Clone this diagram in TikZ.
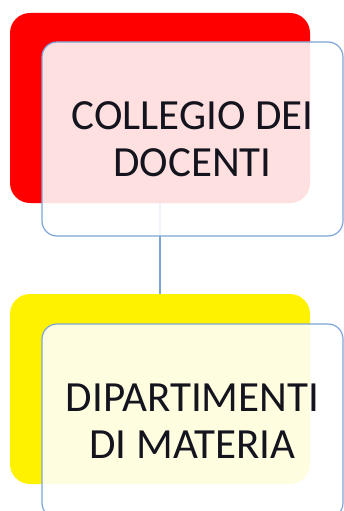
\documentclass[tikz,border=0pt]{standalone}
\usepackage{fontspec}
\setmainfont{Carlito}
\usetikzlibrary{positioning}
\definecolor{frameblue}{RGB}{125,165,215}
\definecolor{textdark}{RGB}{20,20,30}
\tikzset{
	backbox/.style={rounded corners=20pt, minimum width=300pt, minimum height=190pt, inner sep=0pt},
	frontbox/.style={draw=frameblue, line width=1.2pt, fill=white, fill opacity=0.88, text opacity=1,
		rounded corners=15pt, minimum width=301pt, minimum height=194pt, inner sep=0pt,
		align=center, text=textdark, font=\fontsize{43}{47}\selectfont},
	linkline/.style={draw=frameblue, line width=1.2pt}
}

\begin{document}
\begin{tikzpicture}[x=1pt,y=-1pt]

		\useasboundingbox (0,0) rectangle (344,511);
		\clip (0,0) rectangle (344,511);

		% back boxes
		\node[backbox, fill=red] (collegioBack) at (160,108) {};
		\node[backbox, fill=yellow] (dipartBack) at (160,389) {};

		% link between the two levels
		\draw[linkline] (collegioBack) -- (dipartBack);

		% front boxes
		\node[frontbox] (collegio) at (192.5,139) {COLLEGIO DEI\\DOCENTI};
		\node[frontbox] (dipart) at (192.5,421) {DIPARTIMENTI\\DI MATERIA};

	\end{tikzpicture}
\end{document}
